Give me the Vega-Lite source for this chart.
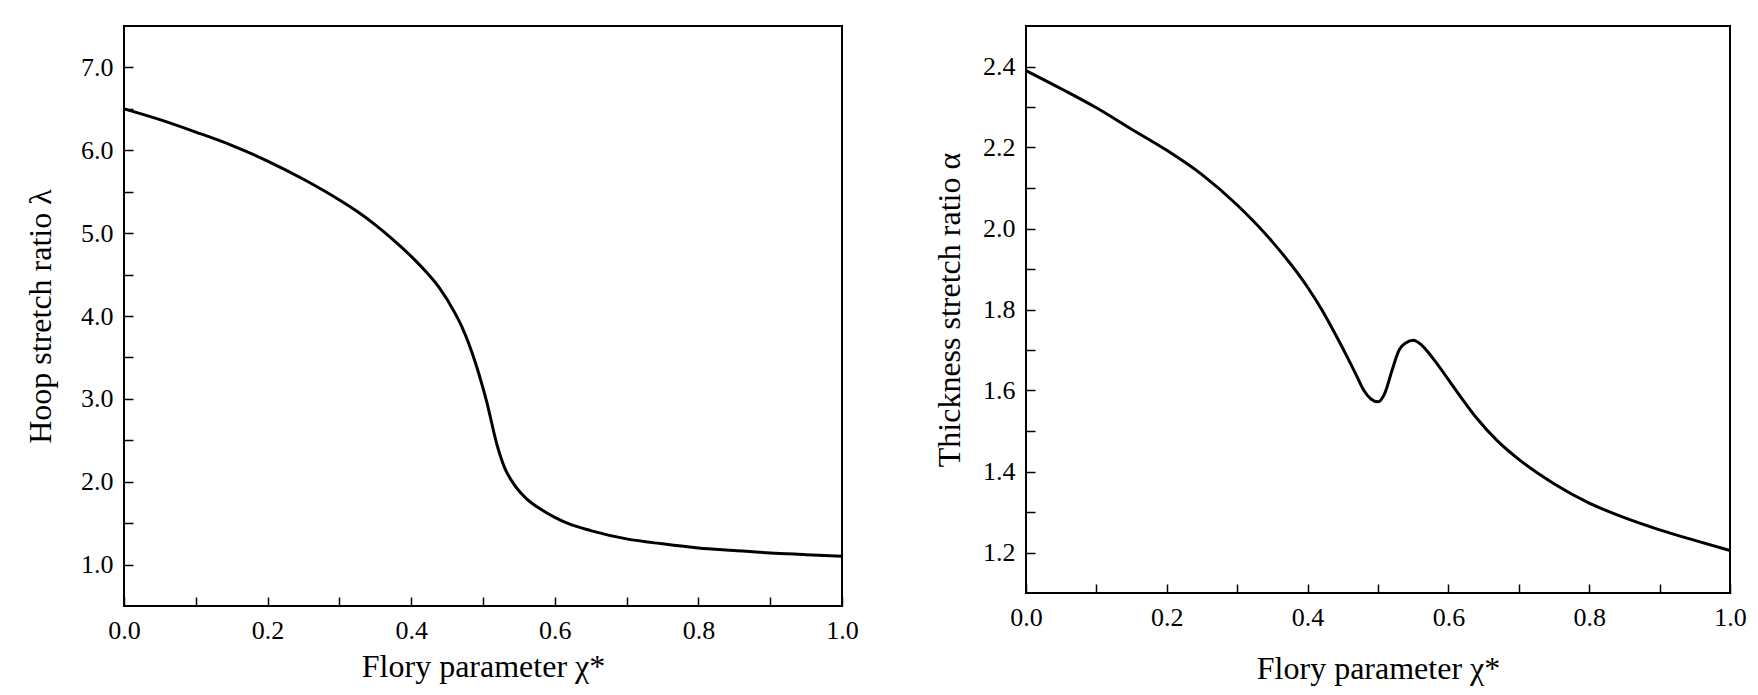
{
  "$schema": "https://vega.github.io/schema/vega-lite/v6.json",
  "padding": {"left": 23, "top": 25, "right": 20, "bottom": 10},
  "background": "white",
  "datasets": {
    "hoop": [
      {"chi": 0.0, "lambda": 6.50}, {"chi": 0.05, "lambda": 6.37}, {"chi": 0.1, "lambda": 6.22},
      {"chi": 0.15, "lambda": 6.06}, {"chi": 0.2, "lambda": 5.87}, {"chi": 0.25, "lambda": 5.65},
      {"chi": 0.3, "lambda": 5.40}, {"chi": 0.325, "lambda": 5.26}, {"chi": 0.35, "lambda": 5.10},
      {"chi": 0.375, "lambda": 4.92}, {"chi": 0.4, "lambda": 4.72},
      {"chi": 0.42, "lambda": 4.54}, {"chi": 0.44, "lambda": 4.33}, {"chi": 0.46, "lambda": 4.05},
      {"chi": 0.47, "lambda": 3.88}, {"chi": 0.48, "lambda": 3.67}, {"chi": 0.49, "lambda": 3.42},
      {"chi": 0.5, "lambda": 3.13}, {"chi": 0.505, "lambda": 2.97}, {"chi": 0.51, "lambda": 2.79},
      {"chi": 0.515, "lambda": 2.60}, {"chi": 0.52, "lambda": 2.43}, {"chi": 0.525, "lambda": 2.29},
      {"chi": 0.53, "lambda": 2.17}, {"chi": 0.54, "lambda": 2.01}, {"chi": 0.55, "lambda": 1.89},
      {"chi": 0.56, "lambda": 1.80}, {"chi": 0.58, "lambda": 1.67}, {"chi": 0.6, "lambda": 1.57},
      {"chi": 0.62, "lambda": 1.49}, {"chi": 0.65, "lambda": 1.41}, {"chi": 0.7, "lambda": 1.31},
      {"chi": 0.75, "lambda": 1.25}, {"chi": 0.8, "lambda": 1.20}, {"chi": 0.85, "lambda": 1.17},
      {"chi": 0.9, "lambda": 1.14}, {"chi": 0.95, "lambda": 1.12}, {"chi": 1.0, "lambda": 1.10}
    ],
    "thick": [
      {"chi": 0.0, "alpha": 2.39}, {"chi": 0.05, "alpha": 2.345}, {"chi": 0.1, "alpha": 2.298},
      {"chi": 0.15, "alpha": 2.245}, {"chi": 0.2, "alpha": 2.193}, {"chi": 0.25, "alpha": 2.133},
      {"chi": 0.3, "alpha": 2.058}, {"chi": 0.35, "alpha": 1.967}, {"chi": 0.4, "alpha": 1.855},
      {"chi": 0.42, "alpha": 1.80}, {"chi": 0.44, "alpha": 1.737},
      {"chi": 0.46, "alpha": 1.67}, {"chi": 0.47, "alpha": 1.635}, {"chi": 0.48, "alpha": 1.60},
      {"chi": 0.49, "alpha": 1.579}, {"chi": 0.5, "alpha": 1.572}, {"chi": 0.51, "alpha": 1.595},
      {"chi": 0.52, "alpha": 1.65}, {"chi": 0.53, "alpha": 1.70}, {"chi": 0.54, "alpha": 1.718},
      {"chi": 0.55, "alpha": 1.724}, {"chi": 0.56, "alpha": 1.715}, {"chi": 0.57, "alpha": 1.697},
      {"chi": 0.58, "alpha": 1.675}, {"chi": 0.6, "alpha": 1.627}, {"chi": 0.62, "alpha": 1.578},
      {"chi": 0.64, "alpha": 1.532}, {"chi": 0.67, "alpha": 1.475}, {"chi": 0.7, "alpha": 1.43},
      {"chi": 0.75, "alpha": 1.37}, {"chi": 0.8, "alpha": 1.322}, {"chi": 0.85, "alpha": 1.286},
      {"chi": 0.9, "alpha": 1.256}, {"chi": 0.95, "alpha": 1.23}, {"chi": 1.0, "alpha": 1.205}
    ]
  },
  "spacing": 184,
  "bounds": "flush",
  "hconcat": [
    {
      "width": 718,
      "height": 580,
      "data": {"name": "hoop"},
      "mark": {"type": "line", "color": "black", "strokeWidth": 3, "interpolate": "monotone"},
      "encoding": {
        "x": {
          "field": "chi", "type": "quantitative",
          "scale": {"domain": [0, 1], "nice": false},
          "axis": {
            "title": "Flory parameter χ*",
            "values": [0, 0.1, 0.2, 0.3, 0.4, 0.5, 0.6, 0.7, 0.8, 0.9, 1.0],
            "labelExpr": "round(datum.value * 10) % 2 === 0 ? format(datum.value, '.1f') : ''",
            "encode": {"ticks": {"update": {"y2": {"signal": "round(datum.value * 10) % 2 === 0 ? -9 : -5"}}}},
            "labelPadding": 20,
            "titlePadding": 8
          }
        },
        "y": {
          "field": "lambda", "type": "quantitative",
          "scale": {"domain": [0.5, 7.5], "nice": false, "zero": false},
          "axis": {
            "title": "Hoop stretch ratio λ",
            "values": [1, 1.5, 2, 2.5, 3, 3.5, 4, 4.5, 5, 5.5, 6, 6.5, 7],
            "labelExpr": "round(datum.value * 2) % 2 === 0 ? format(datum.value, '.1f') : ''",
            "encode": {"ticks": {"update": {"x2": {"signal": "round(datum.value * 2) % 2 === 0 ? 9 : 5"}}}},
            "labelPadding": 20,
            "titlePadding": 23
          }
        }
      }
    },
    {
      "width": 704,
      "height": 567,
      "data": {"name": "thick"},
      "mark": {"type": "line", "color": "black", "strokeWidth": 3, "interpolate": "monotone"},
      "encoding": {
        "x": {
          "field": "chi", "type": "quantitative",
          "scale": {"domain": [0, 1], "nice": false},
          "axis": {
            "title": "Flory parameter χ*",
            "values": [0, 0.1, 0.2, 0.3, 0.4, 0.5, 0.6, 0.7, 0.8, 0.9, 1.0],
            "labelExpr": "round(datum.value * 10) % 2 === 0 ? format(datum.value, '.1f') : ''",
            "encode": {"ticks": {"update": {"y2": {"signal": "round(datum.value * 10) % 2 === 0 ? -9 : -5"}}}},
            "labelPadding": 20,
            "titlePadding": 23
          }
        },
        "y": {
          "field": "alpha", "type": "quantitative",
          "scale": {"domain": [1.1, 2.5], "nice": false, "zero": false},
          "axis": {
            "title": "Thickness stretch ratio α",
            "values": [1.2, 1.3, 1.4, 1.5, 1.6, 1.7, 1.8, 1.9, 2.0, 2.1, 2.2, 2.3, 2.4],
            "labelExpr": "round(datum.value * 10) % 2 === 0 ? format(datum.value, '.1f') : ''",
            "encode": {"ticks": {"update": {"x2": {"signal": "round(datum.value * 10) % 2 === 0 ? 9 : 5"}}}},
            "labelPadding": 20,
            "titlePadding": 16
          }
        }
      }
    }
  ],
  "config": {
    "view": {"stroke": "black", "strokeWidth": 2},
    "font": "Liberation Serif, Times New Roman, serif",
    "axis": {
      "domain": false,
      "grid": false,
      "tickSize": -9,
      "tickColor": "black",
      "tickWidth": 1.5,
      "labelFont": "Liberation Serif, Times New Roman, serif",
      "labelFontSize": 26,
      "labelColor": "black",
      "labelOverlap": false,
      "labelFlush": false,
      "titleFont": "Liberation Serif, Times New Roman, serif",
      "titleFontSize": 32,
      "titleFontWeight": "normal",
      "titleColor": "black"
    }
  }
}
